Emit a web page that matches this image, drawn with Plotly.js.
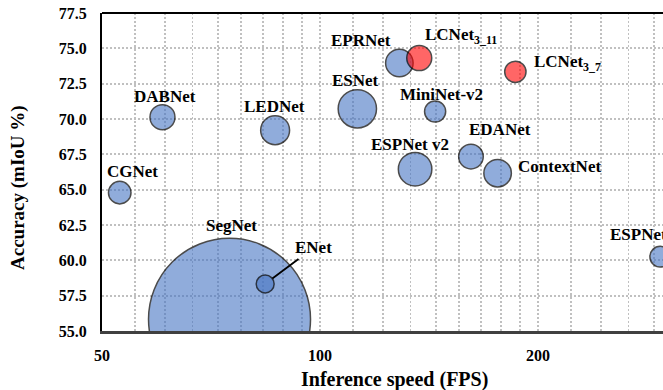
<!DOCTYPE html>
<html>
<head>
<meta charset="utf-8">
<script src="https://cdn.plot.ly/plotly-3.0.1.min.js"></script>
<style>html,body{margin:0;padding:0;background:#fff;overflow:hidden}#chart{width:663px;height:390px}</style>
</head>
<body>
<div id="chart"></div>
<script>
// ---- data ----
var blueNames  = ["SegNet","ENet","CGNet","DABNet","LEDNet","ESNet","EPRNet","ESPNet v2","MiniNet-v2","EDANet","ContextNet","ESPNet"];
var blueFPS    = [75.0, 84.0, 52.9, 60.6, 86.7, 112.6, 128.7, 135.3, 144.2, 161.6, 175.9, 295.0];
var blueMIoU   = [55.83, 58.33, 64.79, 70.13, 69.21, 70.72, 73.96, 66.45, 70.53, 67.34, 66.17, 60.26];
var blueParams = [29.5, 0.36, 0.57, 0.70, 0.94, 1.65, 0.85, 1.26, 0.50, 0.68, 0.85, 0.48];

var redNames   = ["LCNet<sub>3_11</sub>", "LCNet<sub>3_7</sub>"];
var redFPS     = [137.1, 186.1];
var redMIoU    = [74.31, 73.34];
var redParams  = [0.70, 0.51];

var xTickVals  = [50, 100, 200];
var xTickText  = ["50", "100", "200"];
var yTickVals  = [55, 57.5, 60, 62.5, 65, 67.5, 70, 72.5, 75, 77.5];
var yTickText  = ["55.0","57.5","60.0","62.5","65.0","67.5","70.0","72.5","75.0","77.5"];
var xTitle = "Inference speed (FPS)";
var yTitle = "Accuracy (mIoU %)";

// ---- style ----
var FONT = '"Liberation Serif","Times New Roman",serif';
var SIZEREF = 0.002248;
// label placement (pixel offsets from bubble centre): [xshift, yshift, xanchor]
var blueLabelStyle = {
  "SegNet":[1.5,94,"center"], "CGNet":[12.7,21,"center"], "DABNet":[3,20.6,"center"],
  "LEDNet":[-1,23.6,"center"], "ESNet":[-2.3,28,"center"], "EPRNet":[-38.6,22.6,"center"],
  "ESPNet v2":[-5,24.3,"center"], "MiniNet-v2":[6,17.4,"center"], "EDANet":[29,26.7,"center"],
  "ContextNet":[18.3,6.6,"left"], "ESPNet":[-52.6,22.4,"left"]
};
var redLabelStyle = [[3.4,22,"left"],[16.4,9,"left"]];
var LABEL_FONT = {family:FONT, size:17, color:'#000', weight:'bold'};

// minor gridlines (Excel-style log-axis subdivisions)
var minorGrid = [];
[50,100,200].forEach(function(b){ for (var k=1;k<9;k++) minorGrid.push(b*(1+k/9)); });

var traces = [
  {
    type:'scatter', mode:'markers', x:blueFPS, y:blueMIoU, text:blueNames,
    marker:{size:blueParams, sizemode:'area', sizeref:SIZEREF,
            color:'rgba(68,114,196,0.84)', line:{color:'#000', width:1.5}},
    cliponaxis:true, hoverinfo:'text'
  },
  {
    type:'scatter', mode:'markers', x:redFPS, y:redMIoU, text:redNames,
    marker:{size:redParams, sizemode:'area', sizeref:SIZEREF,
            color:'rgba(255,0,0,0.85)', line:{color:'#000', width:1.5}},
    cliponaxis:true, hoverinfo:'text'
  }
];

var annotations = [];
blueNames.forEach(function(n,i){
  if (n === "ENet") {
    annotations.push({x:Math.log10(blueFPS[i]), y:blueMIoU[i], xref:'x', yref:'y', text:n,
      showarrow:true, arrowhead:0, arrowwidth:1.8, arrowcolor:'#000', ax:48, ay:-36, standoff:9,
      font:LABEL_FONT});
    return;
  }
  var s = blueLabelStyle[n];
  annotations.push({x:Math.log10(blueFPS[i]), y:blueMIoU[i], xref:'x', yref:'y', text:n,
    showarrow:false, xshift:s[0], yshift:s[1], xanchor:s[2], yanchor:'middle', font:LABEL_FONT});
});
redNames.forEach(function(n,i){
  var s = redLabelStyle[i];
  annotations.push({x:Math.log10(redFPS[i]), y:redMIoU[i], xref:'x', yref:'y', text:n,
    showarrow:false, xshift:s[0], yshift:s[1], xanchor:s[2], yanchor:'middle', font:LABEL_FONT});
});
// axis titles
annotations.push({xref:'paper', yref:'paper', x:0.5205, y:-0.154, xanchor:'center', yanchor:'middle',
  text:xTitle, showarrow:false, font:{family:FONT, size:20, color:'#000', weight:'bold'}});
annotations.push({xref:'paper', yref:'paper', x:-0.1497, y:0.4497, xanchor:'center', yanchor:'middle',
  textangle:-90, text:yTitle, showarrow:false, font:{family:FONT, size:19, color:'#000', weight:'bold'}});

var layout = {
  width:663, height:390,
  margin:{l:102, r:0, t:13, b:59},
  paper_bgcolor:'#fff', plot_bgcolor:'#fff',
  showlegend:false,
  font:{family:FONT, color:'#000'},
  xaxis:{
    type:'log', range:[Math.log10(50), Math.log10(297.6)],
    tickmode:'array', tickvals:xTickVals, ticktext:xTickText,
    tickfont:{family:FONT, size:16, color:'#000', weight:'bold'},
    ticks:'', ticklabelstandoff:8,
    showgrid:true, gridcolor:'#c0c0c0', gridwidth:1.8, griddash:'2px,2px',
    minor:{tickmode:'array', tickvals:minorGrid, showgrid:true, gridcolor:'#c0c0c0', gridwidth:1.8, griddash:'2px,2px', ticks:''},
    showline:true, linecolor:'#404040', linewidth:2.5, zeroline:false
  },
  yaxis:{
    range:[55, 77.5],
    tickmode:'array', tickvals:yTickVals, ticktext:yTickText,
    tickfont:{family:FONT, size:16, color:'#000', weight:'bold'},
    ticks:'', ticklabelstandoff:10,
    showgrid:true, gridcolor:'#c0c0c0', gridwidth:1.8, griddash:'2px,2px',
    showline:true, linecolor:'#000', linewidth:2, zeroline:false
  },
  shapes:[{type:'line', xref:'paper', yref:'paper', x0:0, x1:1, y0:1, y1:1, line:{color:'#000', width:2}}],
  annotations:annotations
};

Plotly.newPlot('chart', traces, layout, {displayModeBar:false, staticPlot:true});
</script>
</body>
</html>
